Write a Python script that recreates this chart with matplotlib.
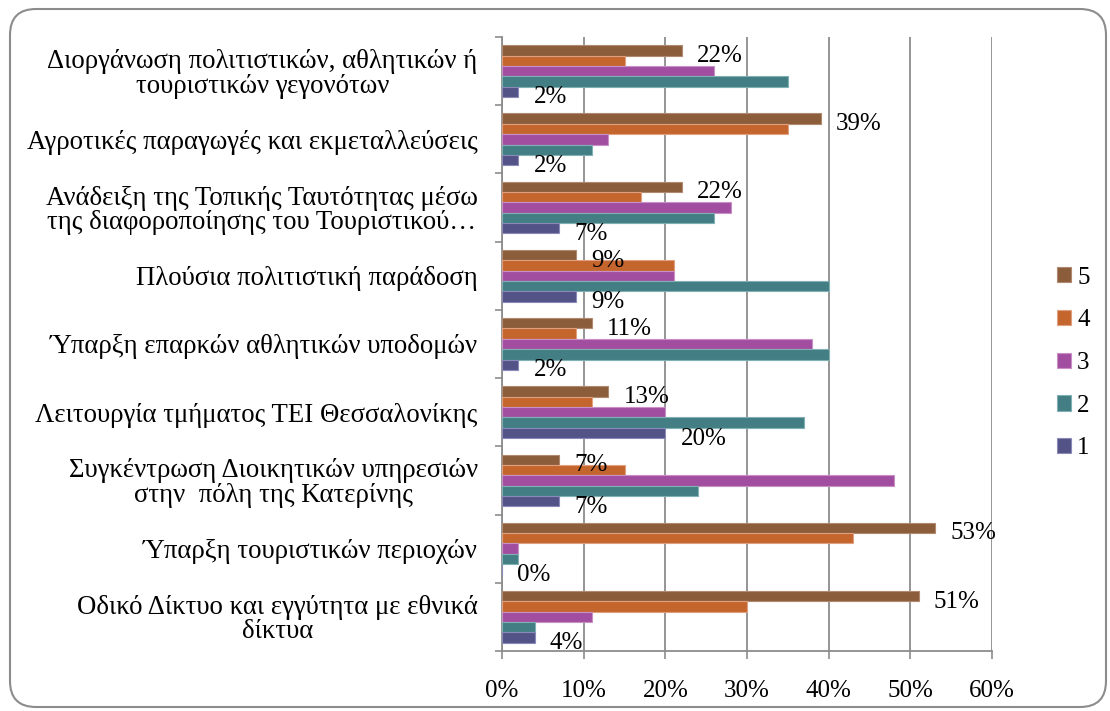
import matplotlib
matplotlib.use("Agg")
import matplotlib.pyplot as plt
import matplotlib.patches as mpatches
import matplotlib.transforms as mtransforms
from matplotlib.ticker import FixedLocator, PercentFormatter
import numpy as np

plt.rcParams['font.family'] = ['Liberation Serif', 'DejaVu Serif']

categories = [
    "Διοργάνωση πολιτιστικών, αθλητικών ή\nτουριστικών γεγονότων",
    "Αγροτικές παραγωγές και εκμεταλλεύσεις",
    "Ανάδειξη της Τοπικής Ταυτότητας μέσω\nτης διαφοροποίησης του Τουριστικού…",
    "Πλούσια πολιτιστική παράδοση",
    "Ύπαρξη επαρκών αθλητικών υποδομών",
    "Λειτουργία τμήματος ΤΕΙ Θεσσαλονίκης",
    "Συγκέντρωση Διοικητικών υπηρεσιών\nστην  πόλη της Κατερίνης",
    "Ύπαρξη τουριστικών περιοχών",
    "Οδικό Δίκτυο και εγγύτητα με εθνικά\nδίκτυα",
]

series_names = ["5", "4", "3", "2", "1"]
s5 = [22, 39, 22, 9, 11, 13, 7, 53, 51]
s4 = [15, 35, 17, 21, 9, 11, 15, 43, 30]
s3 = [26, 13, 28, 21, 38, 20, 48, 2, 11]
s2 = [35, 11, 26, 40, 40, 37, 24, 2, 4]
s1 = [2, 2, 7, 9, 2, 20, 7, 0, 4]
series_values = [s5, s4, s3, s2, s1]
labeled_series = {"5", "1"}

colors = ["#8B5D3B", "#C4652E", "#A24EA0", "#427E83", "#545388"]
edges = ["#B08A70", "#E0A080", "#C890C6", "#80B0B4", "#8A8AB8"]

FS = 18

W, H = 1110, 711
fig = plt.figure(figsize=(W / 100, H / 100), dpi=100)

# rounded outer frame (pixel coordinates)
frame = mpatches.FancyBboxPatch((10, 4), 1096, 698,
                                boxstyle="round,pad=0,rounding_size=26",
                                transform=mtransforms.IdentityTransform(),
                                facecolor="none", edgecolor="#8C8C8C", linewidth=1.5,
                                zorder=-1)
fig.patches.append(frame)

left, right, top, bottom = 502, 992, 37, 651
ax = fig.add_axes([left / W, 1 - bottom / H, (right - left) / W, (bottom - top) / H])
ax.set_facecolor("none")

n = len(categories)
y = np.arange(n)
h = 0.152
offsets = [-2 * h, -h, 0, h, 2 * h]

bars = []
for name, vals, off, c, ec in zip(series_names, series_values, offsets, colors, edges):
    b = ax.barh(y + off, vals, height=h, color=c, edgecolor=ec, linewidth=0.8,
                label=name, zorder=3)
    bars.append(b)
    if name in labeled_series:
        for yi, v in zip(y, vals):
            ax.annotate(f"{v}%", xy=(v, yi + off), xytext=(11, -4),
                        textcoords="offset points", ha="left", va="center",
                        fontsize=FS, color="black", zorder=4)

ax.set_xlim(0, 60)
ax.set_ylim(n - 0.5, -0.5)
ax.xaxis.set_major_locator(FixedLocator(np.arange(0, 61, 10)))
ax.xaxis.set_major_formatter(PercentFormatter(decimals=0))
ax.grid(axis="x", color="#8C8C8C", linewidth=1.3, zorder=1)
ax.set_axisbelow(True)

ax.set_yticks(y)
ax.set_yticklabels(categories, fontsize=19.3, ha="right", multialignment="center",
                   linespacing=0.97)
ax.yaxis.set_minor_locator(FixedLocator(np.arange(-0.5, n, 1.0)))
ax.tick_params(axis="y", which="major", length=0, pad=17.5)
ax.tick_params(axis="y", which="minor", length=5, color="#8C8C8C", width=1.2, direction="out")
ax.tick_params(axis="x", which="major", length=6, color="#8C8C8C", width=1.2,
               direction="out", pad=15, labelsize=FS)

for s in ["top", "right"]:
    ax.spines[s].set_visible(False)
for s in ["left", "bottom"]:
    ax.spines[s].set_color("#8C8C8C")
    ax.spines[s].set_linewidth(1.3)

leg = fig.legend(handles=bars, labels=series_names, loc="center left",
                 bbox_to_anchor=(1057 / W, 1 - 363 / H), frameon=False,
                 fontsize=FS, handlelength=0.56, handleheight=0.56,
                 labelspacing=0.83, handletextpad=0.25, borderpad=0, borderaxespad=0)

fig.savefig("out.png", dpi=100)
